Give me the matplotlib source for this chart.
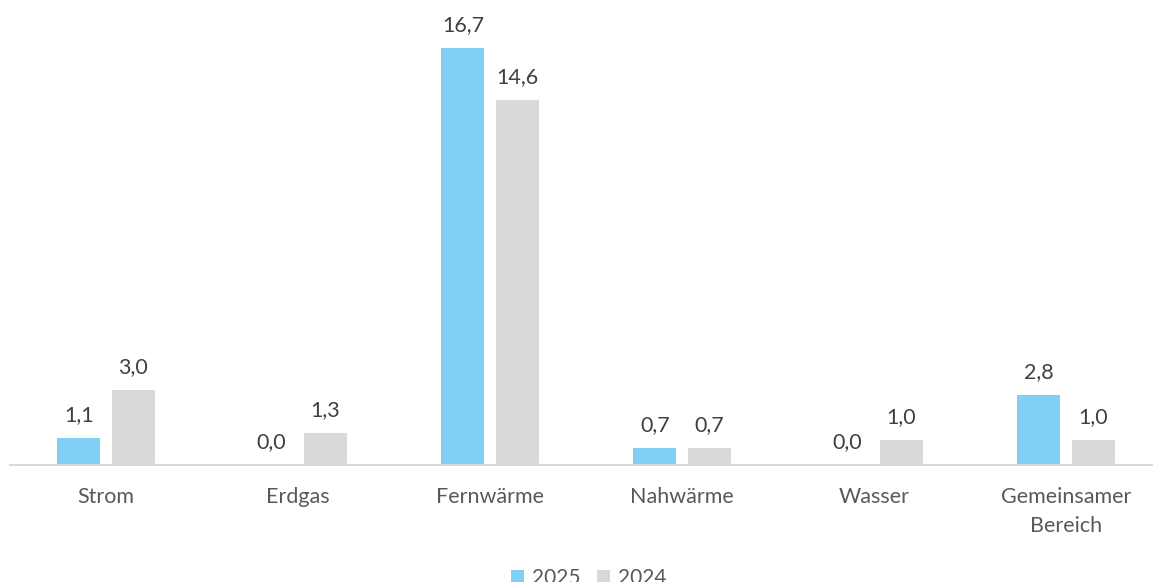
import matplotlib
matplotlib.use('Agg')
import matplotlib.pyplot as plt
import numpy as np

# Data
categories = ['Strom', 'Erdgas', 'Fernwärme', 'Nahwärme', 'Wasser', 'Gemeinsamer\nBereich']
values_2025 = [1.1, 0.0, 16.7, 0.7, 0.0, 2.8]
values_2024 = [3.0, 1.3, 14.6, 0.7, 1.0, 1.0]
series_labels = ['2025', '2024']

color_2025 = '#82CFF5'
color_2024 = '#D9D9D9'

plt.rcParams['font.family'] = ['Lato', 'DejaVu Sans']

W, H = 1153, 582
fig = plt.figure(figsize=(W / 100, H / 100), dpi=100)
ax = fig.add_axes([10 / W, (H - 465) / H, 1152 / W, 465 / H])

x = np.arange(len(categories))
width = 0.224
off = 0.141
b1 = ax.bar(x - off, values_2025, width, color=color_2025, label=series_labels[0])
b2 = ax.bar(x + off, values_2024, width, color=color_2024, label=series_labels[1])

for bars, vals in [(b1, values_2025), (b2, values_2024)]:
    for rect, v in zip(bars, vals):
        ax.annotate(f'{v:.1f}'.replace('.', ','),
                    (rect.get_x() + rect.get_width() / 2, rect.get_height()),
                    xytext=(0, 9), textcoords='offset points',
                    ha='center', va='bottom', fontsize=15.5, color='#404040')

ax.set_xlim(-0.5, len(categories) - 0.5)
ax.set_ylim(0, 18.6)
ax.set_yticks([])
ax.set_xticks(x)
ax.set_xticklabels(categories, fontsize=15.5, color='#595959', linespacing=1.6)
ax.tick_params(axis='x', length=0, pad=15.5)
for s in ['top', 'right', 'left']:
    ax.spines[s].set_visible(False)
ax.spines['bottom'].set_color('#D9D9D9')
ax.spines['bottom'].set_linewidth(1.5)

fig.legend(loc='center', bbox_to_anchor=(589 / W, 4 / H), ncol=2, frameon=False,
           fontsize=15, labelcolor='#595959', handlelength=0.6, handleheight=0.6,
           handletextpad=0.4, columnspacing=0.8)

fig.savefig('out.png', dpi=100)
